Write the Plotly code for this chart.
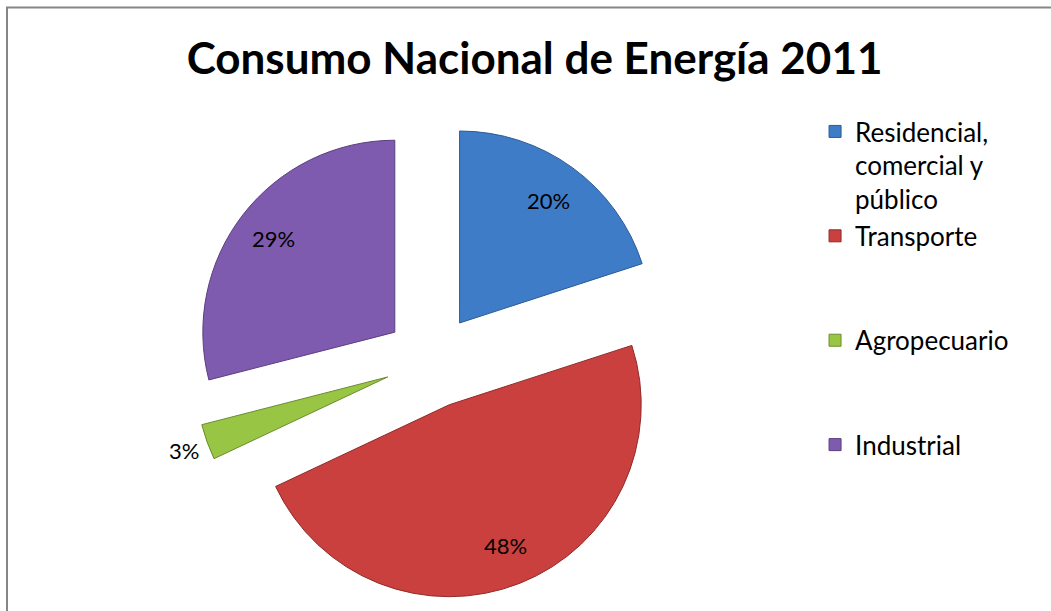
import math
import plotly.graph_objects as go

title = "Consumo Nacional de Energía 2011"
categories = ["Residencial,<br>comercial y<br>público", "Transporte<br> <br> ", "Agropecuario<br> <br> ", "Industrial"]
values = [20, 48, 3, 29]
colors = ["#3F7CC8", "#C9403E", "#99C545", "#7F5BAF"]
edge_colors = ["#2C5A92", "#8E2B29", "#6B8C2E", "#5A3E7E"]
label_radius = [0.79, 0.79, 1.13, 0.80]   # label distance as fraction of slice radius
pull = 0.245

W, H = 1051, 611
dom_x = [0.1836, 0.6384]
dom_y = [0.018, 0.8003]

fig = go.Figure(go.Pie(
    labels=categories,
    values=values,
    sort=False,
    direction="clockwise",
    rotation=0,
    pull=[pull] * len(values),
    marker=dict(colors=colors, line=dict(color=edge_colors, width=1)),
    textinfo="none",
    domain=dict(x=dom_x, y=dom_y),
    hoverinfo="label+percent",
))

# percentage labels placed like the original (radially, at the slice mid-angle)
wpx = (dom_x[1] - dom_x[0]) * W
hpx = (dom_y[1] - dom_y[0]) * H
cx = (dom_x[0] + dom_x[1]) / 2 * W
cy = (dom_y[0] + dom_y[1]) / 2 * H
r = min(wpx, hpx) / (2 * (1 + pull))
total = sum(values)
cum = 0
annotations = []
for v, lr in zip(values, label_radius):
    mid = (cum + v / 2) / total * 2 * math.pi
    cum += v
    dist = (pull + lr) * r
    px = cx + dist * math.sin(mid)
    py = cy + dist * math.cos(mid)
    annotations.append(dict(
        x=px / W, y=py / H, xref="paper", yref="paper",
        text=f"{round(v / total * 100)}%", showarrow=False,
        font=dict(family="Lato", size=22, color="black"),
        xanchor="center", yanchor="middle",
    ))

fig.update_layout(
    width=W, height=H,
    margin=dict(l=0, r=0, t=0, b=0, autoexpand=False),
    paper_bgcolor="white",
    title=dict(text="<b>" + title + "</b>", x=0.5086, xanchor="center", y=0.904, yanchor="middle",
               font=dict(family="Lato", size=44, color="black")),
    legend=dict(x=0.7755, y=0.8232, xanchor="left", yanchor="top", valign="top",
                font=dict(family="Lato", size=26, color="black"),
                itemwidth=30),
    annotations=annotations,
    shapes=[dict(type="rect", xref="paper", yref="paper", x0=7/1051, x1=1.02, y0=-0.05, y1=1-7.5/611,
                 line=dict(color="#868686", width=2), fillcolor="rgba(0,0,0,0)")],
)

fig.write_html("out.html", config={"displayModeBar": False},
               post_script="document.body.style.margin='0';")
